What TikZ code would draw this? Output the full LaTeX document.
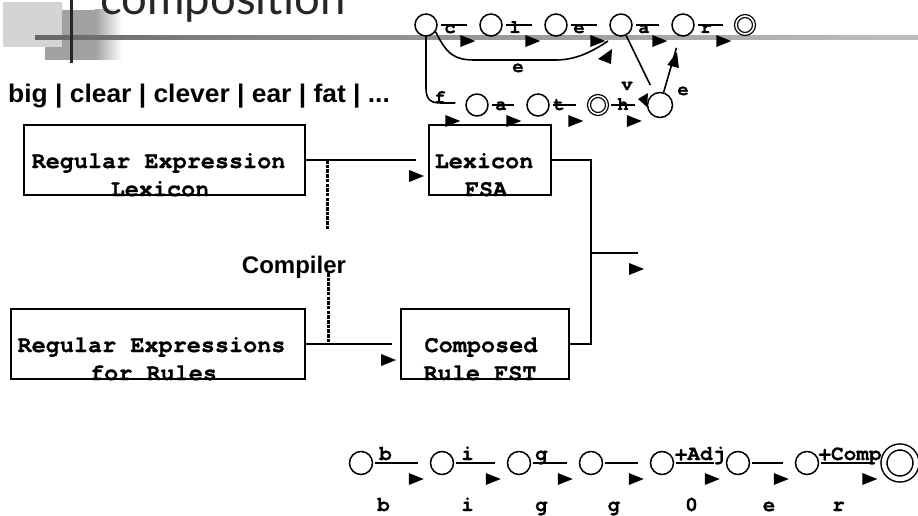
\documentclass[tikz,border=0pt]{standalone}
\usepackage{fontspec}
\setmainfont{Liberation Sans}
\newfontfamily\titlefont{Lato}
% bold Courier-like face for the automaton and box texts
\IfFontExistsTF{TeX Gyre Cursor}
  {\newfontfamily\cursorfont[FakeBold=0.8]{TeX Gyre Cursor}}
  {\newfontfamily\cursorfont{Liberation Mono}}
\newcommand\mono[1]{\cursorfont\fontsize{#1}{#1}\selectfont\bfseries}
\newcommand\sansb[1]{\fontsize{#1}{#1}\selectfont\bfseries}
\pgfdeclarehorizontalshading{ruleshade}{100bp}{color(0bp)=(black!85); color(35bp)=(black!50); color(100bp)=(black!10)}

\begin{document}
\begin{tikzpicture}[x=1pt,y=-1pt,
  st/.style={circle,draw,line width=1.5pt,minimum size=22pt,inner sep=0pt},
  fin/.style={circle,draw,line width=1.3pt,double,double distance=1.6pt,minimum size=18pt,inner sep=0pt},
  tr/.style={line width=1.6pt,shorten <=3pt,shorten >=12pt},
  conn/.style={line width=1.8pt},
  box/.style={draw,line width=2pt,inner sep=0pt,minimum height=70pt},
  toplab/.style={font=\mono{19},inner sep=0pt,anchor=base},
  botlab/.style={font=\mono{21},inner sep=0pt,anchor=base},
  boxtxt/.style={font=\mono{23.5},inner sep=0pt,anchor=base},
  compdash/.style={line width=3pt,dash pattern=on 3.5pt off 1.2pt},
  ahead/.pic={\fill (0,0) -- (-15,-6) -- (-15,6) -- cycle;},
]
\useasboundingbox (0,0) rectangle (918,516);
\clip (0,0) rectangle (918,516);

% ---- title decoration ----
\fill[black!37] (45,10) rectangle (95,60);
\shade[left color=black!37,right color=white] (95,10) rectangle (122,60);
\fill[black!17] (3,2) rectangle (62,47);
\shade[shading=ruleshade] (35,35.5) rectangle (918,39.5);
\fill[black!85] (69.5,0) rectangle (73,63);
\node[anchor=base west,inner sep=0pt,font=\titlefont\fontsize{45.5}{45.5}\selectfont,text=black!85] (title) at (100,15) {composition};

\node[anchor=base west,inner sep=0pt,font=\sansb{25.5},xscale=1.035] (words) at (8,103) {big | clear | clever | ear | fat | ...};

% ---- lexicon automaton ----
\node[st] (q0) at (426,25) {};
\node[st] (q1) at (491,25) {};
\node[st] (q2) at (556,25) {};
\node[st] (q3) at (621,25) {};
\node[st] (q4) at (683,25) {};
\node[fin] (q5) at (745,25) {};
\node[st] (p1) at (477,105) {};
\node[st] (p2) at (538,105) {};
\node[fin] (p3) at (598,105) {};
\node[st,minimum size=25pt] (p4) at (660,105) {};

\foreach \a/\b/\l/\lx in {q0/q1/c/450,q1/q2/l/515,q2/q3/e/579,q3/q4/a/644,q4/q5/r/706}{
  \draw[tr] (\a.east) -- (\b.west);
  \pic at ([shift={(-4,16)}]\b.west) {ahead};
  \node[toplab] at (\lx,33) {\l};
}
\foreach \a/\b/\l/\lx in {p1/p2/a/501,p2/p3/t/559,p3/p4/h/623}{
  \draw[tr] (\a.east) -- (\b.west);
  \pic at ([shift={(-5,16)}]\b.west) {ahead};
  \node[toplab] at (\lx,110) {\l};
}
% f branch
\draw[line width=1.6pt] (q0.south) -- (426,88) .. controls (426,99) and (430,103) .. (441,103) -- ([shift={(-10,-2)}]p1.west);
\pic at ([shift={(-5,16)}]p1.west) {ahead};
\node[toplab] at (440,103) {f};
% e arc skipping to q3
\coordinate (ce) at (608,41);
\draw[line width=1.6pt] (q0.-35) .. controls (447,55) and (455,60) .. (475,60) -- (555,60) .. controls (575,60) and (590,53) .. (ce);
\fill (612,49) -- (611,64) -- (598,59) -- cycle;
\node[toplab] at (518,72) {e};
% v and e through p4
\draw[line width=1.6pt,shorten >=9pt] (q3) -- (p4);
\fill (648,93) -- (647,107) -- (638,99) -- cycle;
\node[toplab] at (627,90) {v};
\draw[line width=1.6pt,shorten >=12pt] (p4) -- (q4);
\pic[rotate=75] at (677,52) {ahead};
\node[toplab] at (683,95) {e};

% ---- boxes ----
\node[box,minimum width=281pt] (b1) at (164.5,160) {};
\node[box,minimum width=122pt] (b2) at (490,160) {};
\node[box,minimum width=294pt] (b3) at (158,344) {};
\node[box,minimum width=168pt] (b4) at (485,344) {};
\begin{scope}
  \clip (b1.south west) rectangle (b1.north east);
  \node[boxtxt] at (158.5,168) {Regular Expression};
  \node[boxtxt] at (160,196) {Lexicon};
\end{scope}
\begin{scope}
  \clip (b2.south west) rectangle (b2.north east);
  \node[boxtxt] at (484,168) {Lexicon};
  \node[boxtxt] at (486,196) {FSA};
\end{scope}
\begin{scope}
  \clip (b3.south west) rectangle (b3.north east);
  \node[boxtxt] at (151.5,352) {Regular Expressions};
  \node[boxtxt] at (153.5,380) {for Rules};
\end{scope}
\begin{scope}
  \clip (b4.south west) rectangle (b4.north east);
  \node[boxtxt] at (481,352) {Composed};
  \node[boxtxt] at (480,380) {Rule FST};
\end{scope}

% ---- box connectors ----
\draw[conn,shorten >=12pt] (b1.east) -- (b2.west);
\pic at ([shift={(-4,16)}]b2.west) {ahead};
\draw[conn,shorten >=8pt] (b3.east) -- (b4.west);
\pic at ([shift={(-4,16)}]b4.west) {ahead};
\coordinate (j) at (591,253);
\draw[conn] (b2.east) -| (j) |- (b4.east);
\coordinate (out) at (638,253);
\draw[conn] (j) -- (out);
\pic at ([shift={(6,16)}]out) {ahead};

% compiler link
\coordinate (c1) at (327,160);
\coordinate (c2) at (327,230);
\coordinate (c3) at (328,273);
\coordinate (c4) at (328,342);
\draw[compdash] (c1) -- (c2);
\draw[compdash] (c3) -- (c4);
\node[anchor=base,inner sep=0pt,font=\sansb{24}] (comp) at (294,273) {Compiler};

% ---- composed lexicon/rule transducer ----
\node[st,minimum size=23pt] (s0) at (361,463) {};
\node[st,minimum size=23pt] (s1) at (442,463) {};
\node[st,minimum size=23pt] (s2) at (519,463) {};
\node[st,minimum size=23pt] (s3) at (591,463) {};
\node[st,minimum size=23pt] (s4) at (662,463) {};
\node[st,minimum size=23pt] (s5) at (738,463) {};
\node[st,minimum size=23pt] (s6) at (807,463) {};
\node[circle,draw,line width=1.5pt,double,double distance=4.5pt,minimum size=32pt,inner sep=0pt] (s7) at (900,463) {};

\foreach \a/\b/\up/\ux/\dn/\dx in {s0/s1/b/385.5/b/383.5, s1/s2/i/467.5/i/467.5, s2/s3/g/541.5/g/541.5, s3/s4//0/g/614, s4/s5/+Adj/700/0/691.5, s5/s6//0/e/769, s6/s7/+Comp/850/r/838.5}{
  \draw[tr,shorten <=2pt] (\a.east) -- (\b.west);
  \pic at ([shift={(-6,16)}]\b.west) {ahead};
  \node[botlab] at (\ux,460) {\up};
  \node[botlab] at (\dx,511) {\dn};
}
\end{tikzpicture}
\end{document}
